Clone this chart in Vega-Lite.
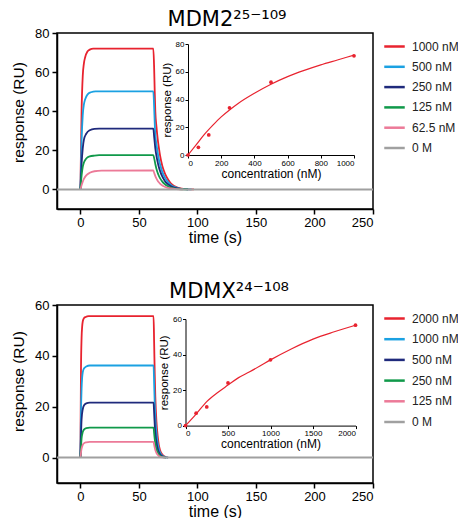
{
  "$schema": "https://vega.github.io/schema/vega-lite/v6.json",
  "background": "white",
  "padding": {"left": 10, "top": 8, "right": 0, "bottom": 0},
  "config": {
    "font": "Liberation Sans",
    "view": {"stroke": "black", "strokeWidth": 1.5},
    "axis": {"grid": false, "domainColor": "black", "tickColor": "black", "labelColor": "black", "titleColor": "black", "titleFontWeight": "normal", "labelFont": "Liberation Sans", "titleFont": "Liberation Sans"},
    "title": {"font": "DejaVu Sans", "fontSize": 21, "fontWeight": "normal", "color": "black", "anchor": "middle", "offset": -3},
    "legend": {"labelFont": "Liberation Sans", "labelFontSize": 12, "labelColor": "#222"}
  },
  "datasets": {
    "m1": [
      {"c":"1000 nM","t":0,"r":0},{"c":"1000 nM","t":1,"r":40},{"c":"1000 nM","t":2,"r":58},{"c":"1000 nM","t":3,"r":64.5},{"c":"1000 nM","t":4,"r":67.5},{"c":"1000 nM","t":6,"r":70.5},{"c":"1000 nM","t":8,"r":71.5},{"c":"1000 nM","t":11,"r":72},{"c":"1000 nM","t":62.3,"r":72},{"c":"1000 nM","t":63,"r":62},{"c":"1000 nM","t":63.5,"r":50},{"c":"1000 nM","t":64,"r":40},{"c":"1000 nM","t":65,"r":32},{"c":"1000 nM","t":66,"r":26},{"c":"1000 nM","t":67,"r":21.5},{"c":"1000 nM","t":68,"r":17.5},{"c":"1000 nM","t":70,"r":12},{"c":"1000 nM","t":72,"r":8.5},{"c":"1000 nM","t":74,"r":6},{"c":"1000 nM","t":77,"r":3.3},{"c":"1000 nM","t":80,"r":1.8},{"c":"1000 nM","t":84,"r":0.8},{"c":"1000 nM","t":90,"r":0.2},{"c":"1000 nM","t":97,"r":0},
      {"c":"500 nM","t":0,"r":0},{"c":"500 nM","t":1,"r":25},{"c":"500 nM","t":2,"r":38},{"c":"500 nM","t":3,"r":43.5},{"c":"500 nM","t":4,"r":46},{"c":"500 nM","t":6,"r":48.5},{"c":"500 nM","t":9,"r":49.7},{"c":"500 nM","t":13,"r":50.2},{"c":"500 nM","t":62.3,"r":50.2},{"c":"500 nM","t":63,"r":42},{"c":"500 nM","t":63.5,"r":34},{"c":"500 nM","t":64,"r":28},{"c":"500 nM","t":65,"r":23},{"c":"500 nM","t":66,"r":19},{"c":"500 nM","t":67,"r":15.5},{"c":"500 nM","t":68,"r":13},{"c":"500 nM","t":70,"r":9},{"c":"500 nM","t":72,"r":6.3},{"c":"500 nM","t":74,"r":4.4},{"c":"500 nM","t":77,"r":2.5},{"c":"500 nM","t":80,"r":1.3},{"c":"500 nM","t":84,"r":0.6},{"c":"500 nM","t":90,"r":0.15},{"c":"500 nM","t":95,"r":0},
      {"c":"250 nM","t":0,"r":0},{"c":"250 nM","t":1,"r":13},{"c":"250 nM","t":2,"r":21},{"c":"250 nM","t":3,"r":25.5},{"c":"250 nM","t":5,"r":28.5},{"c":"250 nM","t":8,"r":30.3},{"c":"250 nM","t":12,"r":31},{"c":"250 nM","t":16,"r":31.1},{"c":"250 nM","t":62.3,"r":31.1},{"c":"250 nM","t":63,"r":27},{"c":"250 nM","t":64,"r":21},{"c":"250 nM","t":65,"r":17},{"c":"250 nM","t":66,"r":14},{"c":"250 nM","t":67,"r":11.5},{"c":"250 nM","t":68,"r":9.5},{"c":"250 nM","t":70,"r":6.5},{"c":"250 nM","t":72,"r":4.5},{"c":"250 nM","t":74,"r":3.1},{"c":"250 nM","t":77,"r":1.7},{"c":"250 nM","t":80,"r":0.9},{"c":"250 nM","t":85,"r":0.3},{"c":"250 nM","t":92,"r":0},
      {"c":"125 nM","t":0,"r":0},{"c":"125 nM","t":1,"r":7},{"c":"125 nM","t":2,"r":11.5},{"c":"125 nM","t":3,"r":13.8},{"c":"125 nM","t":5,"r":15.8},{"c":"125 nM","t":8,"r":16.9},{"c":"125 nM","t":12,"r":17.3},{"c":"125 nM","t":16,"r":17.5},{"c":"125 nM","t":62.3,"r":17.5},{"c":"125 nM","t":63,"r":16},{"c":"125 nM","t":64,"r":13},{"c":"125 nM","t":65,"r":10.5},{"c":"125 nM","t":66,"r":8.5},{"c":"125 nM","t":67,"r":7},{"c":"125 nM","t":68,"r":5.8},{"c":"125 nM","t":70,"r":4},{"c":"125 nM","t":72,"r":2.8},{"c":"125 nM","t":74,"r":1.9},{"c":"125 nM","t":77,"r":1},{"c":"125 nM","t":80,"r":0.5},{"c":"125 nM","t":86,"r":0.1},{"c":"125 nM","t":92,"r":0},
      {"c":"62.5 nM","t":0,"r":0},{"c":"62.5 nM","t":1,"r":2.2},{"c":"62.5 nM","t":2,"r":4},{"c":"62.5 nM","t":3,"r":5.4},{"c":"62.5 nM","t":5,"r":7.2},{"c":"62.5 nM","t":8,"r":8.5},{"c":"62.5 nM","t":12,"r":9.3},{"c":"62.5 nM","t":18,"r":9.6},{"c":"62.5 nM","t":62.3,"r":9.7},{"c":"62.5 nM","t":63,"r":8.5},{"c":"62.5 nM","t":64,"r":6.8},{"c":"62.5 nM","t":65,"r":5.5},{"c":"62.5 nM","t":66,"r":4.5},{"c":"62.5 nM","t":67,"r":3.7},{"c":"62.5 nM","t":68,"r":3},{"c":"62.5 nM","t":70,"r":2},{"c":"62.5 nM","t":72,"r":1.4},{"c":"62.5 nM","t":74,"r":0.9},{"c":"62.5 nM","t":77,"r":0.5},{"c":"62.5 nM","t":82,"r":0.15},{"c":"62.5 nM","t":88,"r":0}
    ],
    "g1": [{"c":"0 M","t":-20,"r":0},{"c":"0 M","t":250,"r":0}],
    "p1": [{"conc":0,"r":0},{"conc":62.5,"r":5.5},{"conc":125,"r":14.5},{"conc":250,"r":34},{"conc":500,"r":52.5},{"conc":1000,"r":71.5}],
    "f1": [{"conc":0,"r":0},{"conc":50,"r":7.5},{"conc":100,"r":15},{"conc":150,"r":21.5},{"conc":200,"r":27.5},{"conc":250,"r":32.5},{"conc":300,"r":37},{"conc":400,"r":44.5},{"conc":500,"r":51},{"conc":600,"r":56.5},{"conc":700,"r":61},{"conc":800,"r":65},{"conc":900,"r":68.5},{"conc":1000,"r":72}],
    "m2": [
      {"c":"2000 nM","t":0,"r":0},{"c":"2000 nM","t":0.5,"r":35},{"c":"2000 nM","t":1,"r":47},{"c":"2000 nM","t":1.5,"r":51.5},{"c":"2000 nM","t":2,"r":53.5},{"c":"2000 nM","t":3,"r":54.8},{"c":"2000 nM","t":4.5,"r":55.3},{"c":"2000 nM","t":7,"r":55.6},{"c":"2000 nM","t":62.5,"r":55.6},{"c":"2000 nM","t":63,"r":45},{"c":"2000 nM","t":63.5,"r":33},{"c":"2000 nM","t":64,"r":24},{"c":"2000 nM","t":65,"r":14},{"c":"2000 nM","t":66,"r":8.5},{"c":"2000 nM","t":67,"r":5},{"c":"2000 nM","t":68,"r":3},{"c":"2000 nM","t":70,"r":1.2},{"c":"2000 nM","t":72,"r":0.4},{"c":"2000 nM","t":75,"r":0},
      {"c":"1000 nM","t":0,"r":0},{"c":"1000 nM","t":0.5,"r":18},{"c":"1000 nM","t":1,"r":27},{"c":"1000 nM","t":1.5,"r":31.5},{"c":"1000 nM","t":2,"r":33.5},{"c":"1000 nM","t":3,"r":35},{"c":"1000 nM","t":5,"r":35.8},{"c":"1000 nM","t":8,"r":36.2},{"c":"1000 nM","t":62.5,"r":36.2},{"c":"1000 nM","t":63,"r":29},{"c":"1000 nM","t":63.5,"r":21.5},{"c":"1000 nM","t":64,"r":16},{"c":"1000 nM","t":65,"r":9.5},{"c":"1000 nM","t":66,"r":5.8},{"c":"1000 nM","t":67,"r":3.5},{"c":"1000 nM","t":68,"r":2.1},{"c":"1000 nM","t":70,"r":0.8},{"c":"1000 nM","t":72,"r":0.3},{"c":"1000 nM","t":75,"r":0},
      {"c":"500 nM","t":0,"r":0},{"c":"500 nM","t":1,"r":15},{"c":"500 nM","t":2,"r":19},{"c":"500 nM","t":3,"r":20.5},{"c":"500 nM","t":5,"r":21.3},{"c":"500 nM","t":8,"r":21.6},{"c":"500 nM","t":62.5,"r":21.6},{"c":"500 nM","t":63,"r":17.5},{"c":"500 nM","t":63.5,"r":13},{"c":"500 nM","t":64,"r":9.8},{"c":"500 nM","t":65,"r":6},{"c":"500 nM","t":66,"r":3.6},{"c":"500 nM","t":67,"r":2.2},{"c":"500 nM","t":68,"r":1.3},{"c":"500 nM","t":70,"r":0.5},{"c":"500 nM","t":73,"r":0},
      {"c":"250 nM","t":0,"r":0},{"c":"250 nM","t":1,"r":7.5},{"c":"250 nM","t":2,"r":10},{"c":"250 nM","t":3,"r":11},{"c":"250 nM","t":5,"r":11.6},{"c":"250 nM","t":8,"r":11.8},{"c":"250 nM","t":62.5,"r":11.8},{"c":"250 nM","t":63,"r":9.5},{"c":"250 nM","t":64,"r":5.5},{"c":"250 nM","t":65,"r":3.3},{"c":"250 nM","t":66,"r":2},{"c":"250 nM","t":67,"r":1.2},{"c":"250 nM","t":68,"r":0.7},{"c":"250 nM","t":70,"r":0.25},{"c":"250 nM","t":73,"r":0},
      {"c":"125 nM","t":0,"r":0},{"c":"125 nM","t":1,"r":3.5},{"c":"125 nM","t":2,"r":5},{"c":"125 nM","t":3,"r":5.6},{"c":"125 nM","t":5,"r":6},{"c":"125 nM","t":8,"r":6.2},{"c":"125 nM","t":62.5,"r":6.2},{"c":"125 nM","t":63,"r":5},{"c":"125 nM","t":64,"r":3},{"c":"125 nM","t":65,"r":1.8},{"c":"125 nM","t":66,"r":1.1},{"c":"125 nM","t":67,"r":0.6},{"c":"125 nM","t":69,"r":0.2},{"c":"125 nM","t":72,"r":0}
    ],
    "g2": [{"c":"0 M","t":-20,"r":0},{"c":"0 M","t":250,"r":0}],
    "p2": [{"conc":0,"r":0},{"conc":125,"r":7},{"conc":250,"r":10.5},{"conc":500,"r":24},{"conc":1000,"r":37},{"conc":2000,"r":56.5}],
    "f2": [{"conc":0,"r":0},{"conc":125,"r":6.5},{"conc":250,"r":13.5},{"conc":375,"r":18.5},{"conc":500,"r":22.8},{"conc":625,"r":27},{"conc":750,"r":30.2},{"conc":875,"r":33.5},{"conc":1000,"r":37},{"conc":1250,"r":43.3},{"conc":1500,"r":48.7},{"conc":1750,"r":52.8},{"conc":2000,"r":56.5}]
  },
  "spacing": 34,
  "resolve": {"scale": {"color": "independent"}},
  "vconcat": [
    {
      "title": {"text": "MDM2²⁵⁻¹⁰⁹", "dx": 12},
      "width": 316,
      "height": 176,
      "resolve": {"scale": {"x": "independent", "y": "independent"}, "axis": {"x": "independent", "y": "independent"}},
      "layer": [
        {
          "encoding": {
            "x": {"field": "t", "type": "quantitative", "scale": {"domain": [-20, 250], "nice": false, "zero": false},
              "axis": {"orient": "bottom", "values": [0, 50, 100, 150, 200, 250], "tickSize": 5, "tickWidth": 1.5, "domainWidth": 1.5, "labelFontSize": 13, "labelPadding": 2, "title": "time (s)", "titleFontSize": 16, "titlePadding": 0}},
            "y": {"field": "r", "type": "quantitative", "scale": {"domain": [-10, 80], "nice": false, "zero": false},
              "axis": {"orient": "left", "values": [0, 20, 40, 60, 80], "tickSize": 5, "tickWidth": 1.5, "domainWidth": 1.5, "labelFontSize": 13, "labelPadding": 3, "title": "response (RU)", "titleFontSize": 15.5, "titlePadding": 8, "titleY": 79}},
            "color": {"field": "c", "type": "nominal",
              "scale": {"domain": ["1000 nM", "500 nM", "250 nM", "125 nM", "62.5 nM", "0 M"], "range": ["#e8232f", "#1ba1e2", "#1f2a7c", "#10994a", "#ec7a98", "#a0a0a0"]},
              "legend": {"title": null, "orient": "right", "symbolType": "stroke", "symbolSize": 420, "symbolStrokeWidth": 2.5, "labelOffset": 6, "rowPadding": 2.3, "padding": 2, "offset": 3.5}}
          },
          "layer": [
            {"data": {"name": "m1"}, "mark": {"type": "line", "interpolate": "monotone", "strokeWidth": 1.8}},
            {"data": {"name": "g1"}, "mark": {"type": "line", "strokeWidth": 2}}
          ]
        },
        {
          "encoding": {
            "x": {"field": "conc", "type": "quantitative", "scale": {"domain": [0, 1000], "range": [131, 297], "nice": false, "zero": false},
              "axis": {"orient": "bottom", "offset": -54, "values": [0, 200, 400, 600, 800, 1000], "format": "d", "tickSize": 3, "domainWidth": 1, "labelFontSize": 8, "labelPadding": 1, "title": "concentration (nM)", "titleFontSize": 12, "titlePadding": 1}},
            "y": {"field": "r", "type": "quantitative", "scale": {"domain": [0, 80], "range": [122, 11], "nice": false, "zero": false},
              "axis": {"orient": "left", "offset": -131, "values": [0, 20, 40, 60, 80], "tickSize": 3, "domainWidth": 1, "labelFontSize": 8, "labelPadding": 1, "title": "response (RU)", "titleFontSize": 11.5, "titlePadding": 3}}
          },
          "layer": [
            {"data": {"name": "f1"}, "mark": {"type": "line", "interpolate": "monotone", "color": "#e8232f", "strokeWidth": 1.2}},
            {"data": {"name": "p1"}, "mark": {"type": "circle", "color": "#e8232f", "size": 14, "opacity": 1}}
          ]
        }
      ]
    },
    {
      "title": {"text": "MDMX²⁴⁻¹⁰⁸", "dx": 14},
      "width": 316,
      "height": 178,
      "resolve": {"scale": {"x": "independent", "y": "independent"}, "axis": {"x": "independent", "y": "independent"}},
      "layer": [
        {
          "encoding": {
            "x": {"field": "t", "type": "quantitative", "scale": {"domain": [-20, 250], "nice": false, "zero": false},
              "axis": {"orient": "bottom", "values": [0, 50, 100, 150, 200, 250], "tickSize": 5, "tickWidth": 1.5, "domainWidth": 1.5, "labelFontSize": 13, "labelPadding": 2, "title": "time (s)", "titleFontSize": 16, "titlePadding": 0}},
            "y": {"field": "r", "type": "quantitative", "scale": {"domain": [-10, 60], "nice": false, "zero": false},
              "axis": {"orient": "left", "values": [0, 20, 40, 60], "tickSize": 5, "tickWidth": 1.5, "domainWidth": 1.5, "labelFontSize": 13, "labelPadding": 3, "title": "response (RU)", "titleFontSize": 15.5, "titlePadding": 8, "titleY": 76}},
            "color": {"field": "c", "type": "nominal",
              "scale": {"domain": ["2000 nM", "1000 nM", "500 nM", "250 nM", "125 nM", "0 M"], "range": ["#e8232f", "#1ba1e2", "#1f2a7c", "#10994a", "#ec7a98", "#a0a0a0"]},
              "legend": {"title": null, "orient": "right", "symbolType": "stroke", "symbolSize": 420, "symbolStrokeWidth": 2.5, "labelOffset": 6, "rowPadding": 2.7, "padding": 2, "offset": 3.5}}
          },
          "layer": [
            {"data": {"name": "m2"}, "mark": {"type": "line", "interpolate": "monotone", "strokeWidth": 1.8}},
            {"data": {"name": "g2"}, "mark": {"type": "line", "strokeWidth": 2}}
          ]
        },
        {
          "encoding": {
            "x": {"field": "conc", "type": "quantitative", "scale": {"domain": [0, 2000], "range": [128.5, 298.5], "nice": false, "zero": false},
              "axis": {"orient": "bottom", "offset": -57.4, "values": [0, 500, 1000, 1500, 2000], "format": "d", "tickSize": 3, "domainWidth": 1, "labelFontSize": 8, "labelPadding": 1, "title": "concentration (nM)", "titleFontSize": 12, "titlePadding": 1}},
            "y": {"field": "r", "type": "quantitative", "scale": {"domain": [0, 60], "range": [120.6, 14], "nice": false, "zero": false},
              "axis": {"orient": "left", "offset": -128.5, "values": [0, 20, 40, 60], "tickSize": 3, "domainWidth": 1, "labelFontSize": 8, "labelPadding": 1, "title": "response (RU)", "titleFontSize": 11.5, "titlePadding": 3}}
          },
          "layer": [
            {"data": {"name": "f2"}, "mark": {"type": "line", "interpolate": "monotone", "color": "#e8232f", "strokeWidth": 1.2}},
            {"data": {"name": "p2"}, "mark": {"type": "circle", "color": "#e8232f", "size": 14, "opacity": 1}}
          ]
        }
      ]
    }
  ]
}
